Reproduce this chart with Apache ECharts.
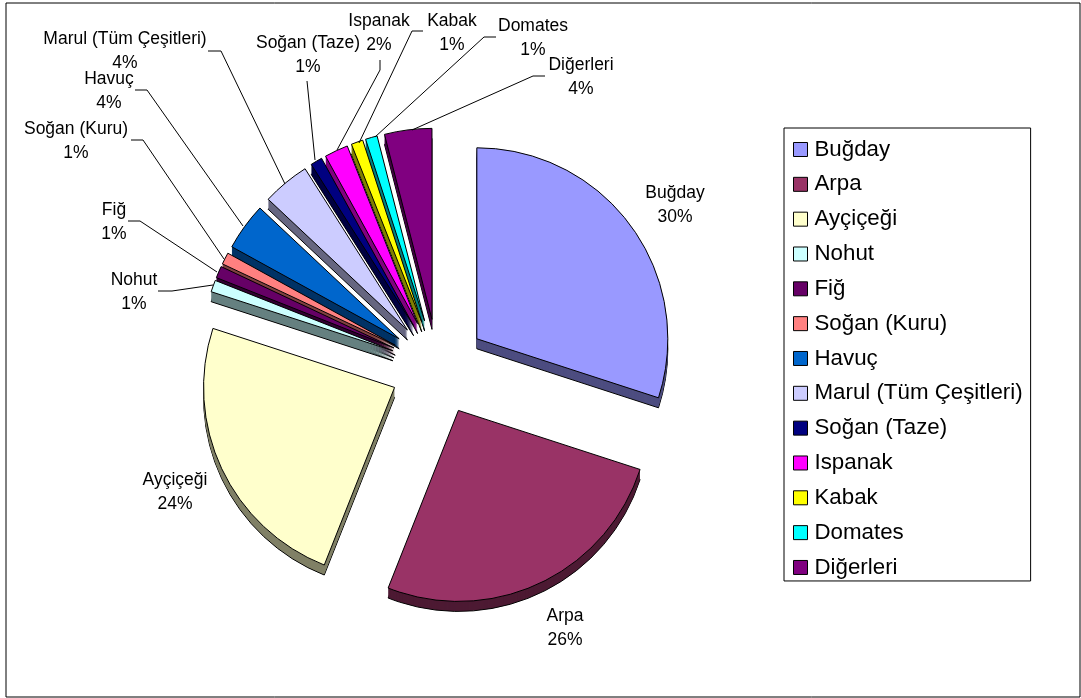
<!DOCTYPE html>
<html><head><meta charset="utf-8">
<style>html,body{margin:0;padding:0;background:#fff}#c{width:1081px;height:698px}</style>
<script src="https://cdn.jsdelivr.net/npm/echarts@6/dist/echarts.min.js"></script>
</head><body><div id="c"></div>
<script>
const categories = ['Buğday','Arpa','Ayçiçeği','Nohut','Fiğ','Soğan (Kuru)','Havuç','Marul (Tüm Çeşitleri)','Soğan (Taze)','Ispanak','Kabak','Domates','Diğerleri'];
const values = [30,26,24,1,1,1,4,4,1,2,1,1,4];
const colors = ['#9999FF','#993366','#FFFFCC','#CCFFFF','#660066','#FF8080','#0066CC','#CCCCFF','#000080','#FF00FF','#FFFF00','#00FFFF','#800080'];
const wallColors = ['#4D4D80','#4D1A33','#808066','#668080','#330033','#804040','#003366','#666680','#000040','#800080','#808000','#008080','#400040'];

// label centres and leader-line routes (page layout, not data)
const labelCentres = [[675,205],[565,628],[175,492],[134,292],[114,222],[76,141],[109,91],[125,51],[308,55],[379,33],[452,33],[533,38],[581,77]];
const leaders = [null,null,null,
  [[213,285],[172,291],[158,291]],
  [[217,272],[140,221],[128,221]],
  [[224,259],[143,140],[131,140]],
  [[243,226],[147,90],[135,90]],
  [[285,184],[221,51],[208,51]],
  [[315,160],[307,81]],
  [[337,150],[380,70],[380,60]],
  [[359,143],[412,31],[423,31]],
  [[375,137],[484,37],[496,37]],
  [[412,130],[533,76],[545,76]]];

const CX = 438, CY = 367, R = 191, EXPLODE = 48, DEPTH = 10;

function pieData(palette, opts) {
  return categories.map((name,i)=>Object.assign({
    name, value: values[i], selected: true,
    itemStyle: {color: palette[i]},
    select: {itemStyle: {color: palette[i]}}
  }, opts ? opts(i) : {}));
}
const base = {
  type:'pie', radius:R, startAngle:90, clockwise:true, avoidLabelOverlap:false,
  selectedMode:'multiple', selectedOffset:EXPLODE, animation:false, emphasis:{disabled:true}
};
const series = [Object.assign({}, base, {
  name:'main', z:5, center:[CX,CY],
  data: pieData(colors),
  itemStyle:{borderColor:'#000',borderWidth:1},
  select:{itemStyle:{borderColor:'#000',borderWidth:1}},
  label:{show:false}, labelLine:{show:false}
})];
for (let k=DEPTH;k>=1;k--) {
  series.push(Object.assign({}, base, {
    name:'wall'+k, z:4, silent:true, center:[CX,CY+k],
    data: pieData(wallColors),
    itemStyle:{borderColor:k===DEPTH?'#000':'transparent',borderWidth:k===DEPTH?1:0},
    select:{itemStyle:{borderColor:k===DEPTH?'#000':'transparent',borderWidth:k===DEPTH?1:0}},
    label:{show:false}, labelLine:{show:false}
  }));
}
// unexploded transparent pass that only carries the labels and leaders
series.push({
  type:'pie', name:'labels', z:6, radius:R, center:[CX,CY], startAngle:90, clockwise:true,
  avoidLabelOverlap:false, animation:false, silent:true, emphasis:{disabled:true}, selectedMode:false,
  data: categories.map((name,i)=>({name, value:values[i], labelLine:{show:!!leaders[i]}})),
  itemStyle:{color:'transparent',borderWidth:0},
  label:{show:true, formatter:'{b}\n{d}%', color:'#000', fontFamily:'Liberation Sans', fontSize:17.5, lineHeight:24, align:'center'},
  labelLine:{show:true, lineStyle:{color:'#000',width:1}},
  labelLayout:function(p){
    const c = labelCentres[p.dataIndex];
    return {x:c[0], y:c[1], align:'center', verticalAlign:'middle', hideOverlap:false,
      labelLinePoints: leaders[p.dataIndex] || undefined};
  }
});
const chart = echarts.init(document.getElementById('c'),null,{renderer:'canvas'});
chart.setOption({
  animation:false,
  backgroundColor:'#fff',
  tooltip:{show:false},
  legend:{
    show:true, data:categories, orient:'vertical', left:784, top:128, selectedMode:false,
    itemWidth:14, itemHeight:14, itemGap:11.83, icon:'rect', padding:[10,8,2,9],
    borderColor:'#000', borderWidth:1, backgroundColor:'#fff',
    itemStyle:{borderColor:'#000',borderWidth:1},
    textStyle:{color:'#000',fontFamily:'Liberation Sans',fontSize:22.3,lineHeight:23,padding:[0,0,0,2]}
  },
  graphic:[{type:'rect',silent:true,z:0,shape:{x:6,y:3,width:1074,height:694},style:{fill:'none',stroke:'#000',lineWidth:1}}],
  series
});
</script></body></html>
